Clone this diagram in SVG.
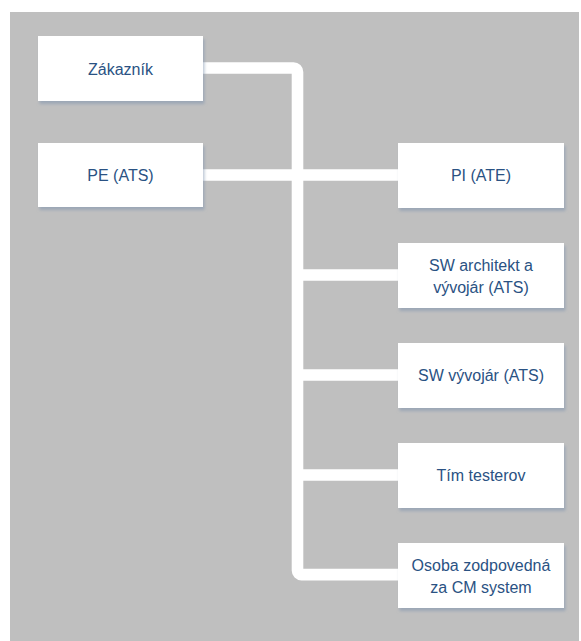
<svg xmlns="http://www.w3.org/2000/svg" width="581" height="641" viewBox="0 0 581 641">
<style>
.box{fill:#ffffff;filter:url(#sh);}
.t{font-family:"Liberation Sans",Arial,sans-serif;font-size:16px;fill:#2a5283;text-anchor:middle;}
.c{fill:none;stroke:#ffffff;stroke-width:11.6;}
</style>
<defs>
<filter id="sh" x="-10%" y="-10%" width="125%" height="130%">
<feDropShadow dx="1.5" dy="3" stdDeviation="1.8" flood-color="#7f93ad" flood-opacity="0.55"/>
</filter>
</defs>
<rect x="0" y="0" width="581" height="641" fill="#ffffff"/>
<rect x="10" y="12" width="569" height="629" fill="#bfbfbf"/>
<g id="connectors">
<path class="c" d="M203,68 H293.5 A4,4 0 0 1 297.5,72 V570.6 A4,4 0 0 0 301.5,574.6 H398"/>
<path class="c" d="M203,175 H398"/>
<path class="c" d="M297.5,275 H398"/>
<path class="c" d="M297.5,375 H398"/>
<path class="c" d="M297.5,475 H398"/>
</g>
<g id="zakaznik"><rect class="box" x="38" y="36" width="165" height="65"/><text class="t" x="120.5" y="74.5">Zákazník</text></g>
<g id="pe"><rect class="box" x="38" y="143" width="165" height="64"/><text class="t" x="120.5" y="181">PE (ATS)</text></g>
<g id="pi"><rect class="box" x="398" y="143" width="166" height="65"/><text class="t" x="481" y="181">PI (ATE)</text></g>
<g id="sw-architekt"><rect class="box" x="398" y="243" width="166" height="65"/><text class="t" x="481" y="270.5">SW architekt a</text><text class="t" x="481" y="292.5">vývojár (ATS)</text></g>
<g id="sw-vyvojar"><rect class="box" x="398" y="343" width="166" height="65"/><text class="t" x="481" y="381">SW vývojár (ATS)</text></g>
<g id="tim"><rect class="box" x="398" y="443" width="166" height="65"/><text class="t" x="481" y="481">Tím testerov</text></g>
<g id="osoba"><rect class="box" x="398" y="543" width="166" height="65"/><text class="t" x="481" y="570.5">Osoba zodpovedná</text><text class="t" x="481" y="592.5">za CM system</text></g>
</svg>
